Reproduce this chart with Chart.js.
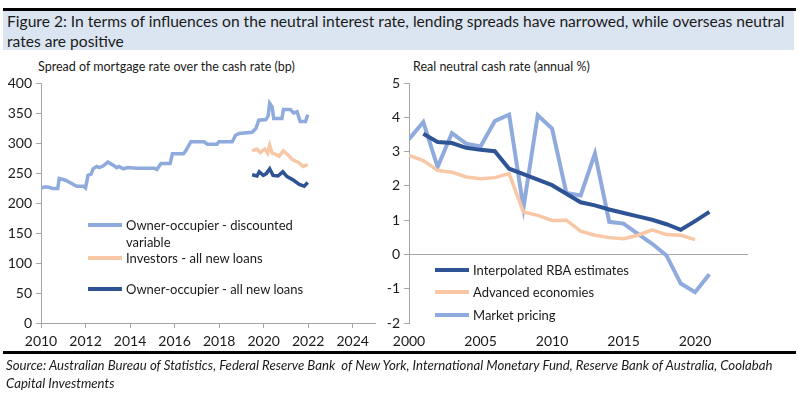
<!DOCTYPE html>
<html lang="en">
<head>
  <meta charset="UTF-8">
  <title>Figure 2</title>
  <script src="https://cdn.jsdelivr.net/npm/chart.js"></script>
  <style>
    body {
      margin: 0;
      width: 799px;
      height: 396px;
      background: #fff;
      position: relative;
      overflow: hidden;
      font-family: Lato, "Open Sans", sans-serif;
      color: #1a1a1a;
    }

    .rule {
      position: absolute;
      left: 3px;
      width: 793px;
      height: 3px;
      background: #000;
    }

    #title {
      position: absolute;
      left: 3px;
      top: 11px;
      width: 787px;
      height: 39px;
      padding-left: 4px;
      background: #dbe5f1;
      font-size: 15.6px;
      line-height: 20px;
    }

    .sub {
      position: absolute;
      top: 59px;
      font-size: 12.5px;
      white-space: nowrap;
    }

    .box {
      position: absolute;
      top: 0;
      height: 360px;
    }

    .legend-item {
      position: absolute;
      display: flex;
      align-items: center;
      font-size: 13px;
      white-space: nowrap;
    }

    .legend-line {
      width: 34px;
      height: 4px;
      margin-right: 4px;
    }

    #source {
      position: absolute;
      left: 6px;
      top: 356px;
      font-size: 13.2px;
      line-height: 18px;
      font-style: italic;
    }
  </style>
</head>
<body>
  <div class="rule" style="top: 8px;"></div>
  <div id="title">Figure 2: In terms of influences on the neutral interest rate, lending spreads have narrowed, while overseas neutral rates are positive</div>

  <div class="sub" style="left: 38px;">Spread of mortgage rate over the cash rate (bp)</div>
  <div class="sub" style="left: 413px;">Real neutral cash rate (annual %)</div>

  <div class="box" style="left: 0; width: 380px;"><canvas id="leftChart"></canvas></div>
  <div class="box" style="left: 368px; width: 385px;"><canvas id="rightChart"></canvas></div>

  <div class="legend-item" style="left: 88px; top: 217px;"><div class="legend-line" style="background:#8faadc;"></div>Owner-occupier - discounted</div>
  <div class="legend-item" style="left: 126px; top: 234px;">variable</div>
  <div class="legend-item" style="left: 88px; top: 250px;"><div class="legend-line" style="background:#f8c7a6;"></div>Investors - all new loans</div>
  <div class="legend-item" style="left: 88px; top: 281px;"><div class="legend-line" style="background:#2f5496;"></div>Owner-occupier - all new loans</div>

  <div class="legend-item" style="left: 435px; top: 262px;"><div class="legend-line" style="background:#2f5496;"></div>Interpolated RBA estimates</div>
  <div class="legend-item" style="left: 435px; top: 284px;"><div class="legend-line" style="background:#f8c7a6;"></div>Advanced economies</div>
  <div class="legend-item" style="left: 435px; top: 307px;"><div class="legend-line" style="background:#8faadc;"></div>Market pricing</div>

  <div class="rule" style="top: 351px;"></div>
  <div id="source">Source: Australian Bureau of Statistics, Federal Reserve Bank &nbsp;of New York, International Monetary Fund, Reserve Bank of Australia, Coolabah<br>Capital Investments</div>

  <script>
    // left panel: mortgage spreads (bp), x in decimal years
    const discYears = [2010.0, 2010.2, 2010.4, 2010.5, 2010.75, 2010.82, 2011.1, 2011.4, 2011.6, 2011.9, 2012.0, 2012.11, 2012.25, 2012.34, 2012.5, 2012.62, 2012.8, 2013.0, 2013.2, 2013.4, 2013.5, 2013.7, 2013.9, 2014.3, 2014.8, 2015.09, 2015.2, 2015.39, 2015.8, 2015.9, 2016.4, 2016.5, 2016.73, 2017.32, 2017.47, 2017.9, 2017.99, 2018.59, 2018.74, 2018.9, 2019.48, 2019.65, 2019.78, 2020.1, 2020.2, 2020.27, 2020.38, 2020.45, 2020.82, 2020.89, 2021.2, 2021.34, 2021.5, 2021.64, 2021.88, 2021.98];
    const discSpread = [225, 227, 226, 224, 224, 241, 238, 232, 228, 228, 225, 246, 248, 257, 261, 259, 262, 268, 264, 259, 261, 257, 259, 258, 258, 258, 256, 266, 266, 282, 282, 287, 302, 302, 298, 298, 302, 302, 313, 316, 318, 324, 338, 339, 345, 366, 360, 341, 341, 356, 356, 350, 352, 336, 336, 347];

    const invYears = [2019.48, 2019.7, 2019.85, 2020.05, 2020.18, 2020.27, 2020.38, 2020.55, 2020.7, 2020.88, 2021.07, 2021.3, 2021.55, 2021.78, 2021.98];
    const invSpread = [287, 290, 284, 290, 283, 296, 283, 281, 278, 287, 281, 272, 268, 261, 264];

    const ownYears = [2019.48, 2019.7, 2019.8, 2019.98, 2020.12, 2020.27, 2020.42, 2020.64, 2020.86, 2021.05, 2021.3, 2021.6, 2021.82, 2021.98];
    const ownSpread = [247, 245, 252, 246, 249, 257, 246, 245, 252, 244, 239, 231, 228, 234];

    const leftTicksX = [2010, 2012, 2014, 2016, 2018, 2020, 2022, 2024];

    // right panel: real neutral cash rate (%), annual
    const years = [2000, 2001, 2002, 2003, 2004, 2005, 2006, 2007, 2008, 2009, 2010, 2011, 2012, 2013, 2014, 2015, 2016, 2017, 2018, 2019, 2020, 2021];
    const rbaEstimates = [null, 3.52, 3.28, 3.25, 3.11, 3.05, 3.01, 2.5, 2.34, 2.18, 2.02, 1.77, 1.52, 1.43, 1.31, 1.21, 1.11, 1.01, 0.88, 0.72, 0.97, 1.24];
    const advancedEconomies = [2.89, 2.74, 2.45, 2.4, 2.26, 2.21, 2.24, 2.36, 1.24, 1.14, 0.99, 1.0, 0.68, 0.56, 0.49, 0.46, 0.56, 0.72, 0.58, 0.56, 0.43, null];
    const marketPricing = [3.36, 3.86, 2.55, 3.54, 3.23, 3.15, 3.89, 4.08, 1.36, 4.06, 3.67, 1.79, 1.72, 2.94, 0.95, 0.9, 0.6, 0.31, -0.03, -0.85, -1.1, -0.58];

    const rightTicksX = [2000, 2005, 2010, 2015, 2020];

    const lightBlue = '#8faadc';
    const darkBlue = '#2f5496';
    const peach = '#f8c7a6';
    const axisGrey = '#a6a6a6';
    const tickFont = { family: 'Lato, sans-serif', size: 14 };
    const plain = v => String(v);

    function pairs(xs, ys) {
      return xs.map((x, i) => ({ x: x, y: ys[i] }));
    }

    function lineSet(label, data, color, width) {
      return {
        label: label,
        data: data,
        borderColor: color,
        backgroundColor: color,
        borderWidth: width,
        pointRadius: 0,
        showLine: true,
        tension: 0,
        spanGaps: false
      };
    }

    new Chart(document.getElementById('leftChart'), {
      type: 'scatter',
      data: {
        datasets: [
          lineSet('Owner-occupier - discounted variable', pairs(discYears, discSpread), lightBlue, 3.5),
          lineSet('Investors - all new loans', pairs(invYears, invSpread), peach, 3.5),
          lineSet('Owner-occupier - all new loans', pairs(ownYears, ownSpread), darkBlue, 3.5)
        ]
      },
      options: {
        responsive: true,
        maintainAspectRatio: false,
        animation: false,
        layout: { padding: { top: 83, right: 5, left: 0, bottom: 0 } },
        plugins: { legend: { display: false }, tooltip: { enabled: false } },
        scales: {
          x: {
            type: 'linear',
            min: 2010,
            max: 2025,
            afterBuildTicks: scale => { scale.ticks = leftTicksX.map(v => ({ value: v })); },
            afterFit: scale => { scale.height = 37; },
            ticks: { font: tickFont, color: '#1a1a1a', padding: 5, maxRotation: 0, autoSkip: false, callback: plain },
            grid: { drawOnChartArea: false, tickLength: 5, color: axisGrey },
            border: { color: axisGrey }
          },
          y: {
            min: 0,
            max: 400,
            afterFit: scale => { scale.width = 41; },
            ticks: { stepSize: 50, font: tickFont, color: '#1a1a1a', padding: 4, callback: plain },
            grid: { drawOnChartArea: false, tickLength: 5, color: axisGrey },
            border: { color: axisGrey }
          }
        }
      }
    });

    new Chart(document.getElementById('rightChart'), {
      type: 'scatter',
      data: {
        datasets: [
          lineSet('Interpolated RBA estimates', pairs(years, rbaEstimates), darkBlue, 4),
          lineSet('Advanced economies', pairs(years, advancedEconomies), peach, 3.5),
          lineSet('Market pricing', pairs(years, marketPricing), lightBlue, 4)
        ]
      },
      options: {
        responsive: true,
        maintainAspectRatio: false,
        animation: false,
        layout: { padding: { top: 83, right: 5, left: 0, bottom: 0 } },
        plugins: { legend: { display: false }, tooltip: { enabled: false } },
        scales: {
          x: {
            type: 'linear',
            min: 2000,
            max: 2023.7,
            afterBuildTicks: scale => { scale.ticks = rightTicksX.map(v => ({ value: v })); },
            afterFit: scale => { scale.height = 37; },
            ticks: { font: tickFont, color: '#1a1a1a', padding: 10, maxRotation: 0, autoSkip: false, callback: plain },
            grid: { display: false, drawTicks: false },
            border: { display: false }
          },
          y: {
            min: -2,
            max: 5,
            afterFit: scale => { scale.width = 41; },
            ticks: { stepSize: 1, font: tickFont, color: '#1a1a1a', padding: 4, callback: plain },
            grid: {
              drawOnChartArea: true,
              tickLength: 5,
              color: ctx => (ctx.tick && ctx.tick.value === 0 ? axisGrey : 'rgba(0,0,0,0)'),
              tickColor: axisGrey
            },
            border: { color: axisGrey }
          }
        }
      }
    });
  </script>
</body>
</html>
